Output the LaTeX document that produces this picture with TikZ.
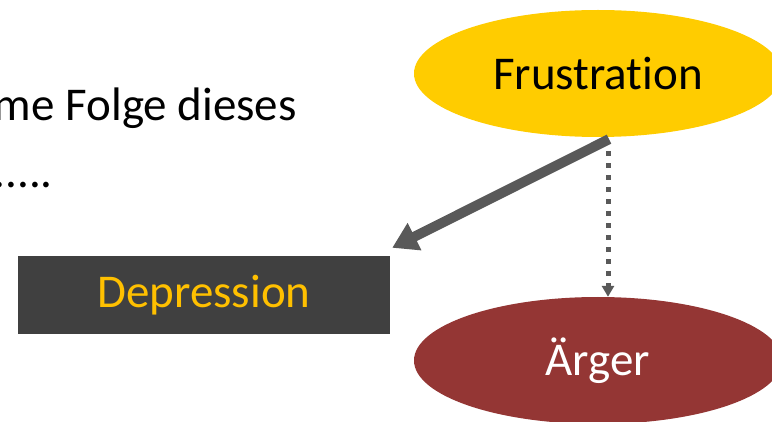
\documentclass[tikz,border=0pt]{standalone}
\usepackage{fontspec}
\setmainfont{Carlito}[Ligatures=NoCommon]
\usetikzlibrary{shapes.geometric,arrows.meta,calc}
\definecolor{gold}{HTML}{FFCC00}
\definecolor{amber}{HTML}{FFC000}
\definecolor{wine}{HTML}{943634}
\definecolor{slate}{HTML}{404040}
\definecolor{arrowgray}{HTML}{595959}
\tikzset{
  big/.style={font=\fontsize{47}{54}\selectfont},
  blob/.style={ellipse, draw=none, minimum width=368pt, minimum height=127pt, inner sep=0pt, big},
  darkbox/.style={rectangle, fill=slate, minimum width=372pt, minimum height=78pt, inner sep=0pt, big, text=amber},
  mainarrow/.style={draw=arrowgray, line width=10pt, -{Triangle[length=25pt,width=29pt]}},
  dotarrow/.style={draw=arrowgray, line width=5pt, dash pattern=on 5pt off 7pt, -{Triangle[length=11pt,width=12pt]}},
}
\begin{document}
\begin{tikzpicture}[x=1pt,y=-1pt]
  \useasboundingbox (0,0) rectangle (772,422);
  \clip (0,0) rectangle (772,422);
  % slide text on the left, running off the left edge
  \node[big, anchor=base east, inner sep=0pt] (line1) at (297,121) {me Folge dieses};
  \node[big, anchor=base east, inner sep=0pt] (line2) at (53,188) {.....};
  % nodes
  \node[blob, fill=gold] (fr) at (598,73.5) {Frustration};
  \node[blob, fill=wine, text=white] (ar) at (598,360.5) {Ärger};
  \node[darkbox] (dep) at (204,295) {Depression};
  % connectors
  \draw[mainarrow] ($(fr.south)+(11,2)$) -- ($(dep.north east)+(2,-8)$);
  \draw[dotarrow] ($(fr.south)+(10,14)$) -- ($(ar.north)+(10,0)$);
\end{tikzpicture}
\end{document}
